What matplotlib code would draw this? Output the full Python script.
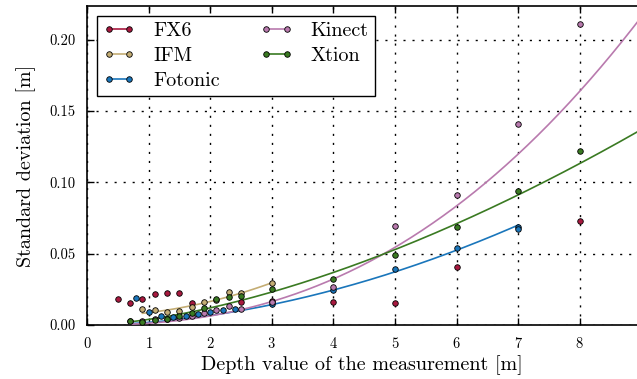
import numpy as np
import matplotlib
matplotlib.use('Agg')
import matplotlib.pyplot as plt

plt.rcParams['font.family'] = 'serif'
plt.rcParams['font.serif'] = ['cmr10', 'DejaVu Serif']
plt.rcParams['mathtext.fontset'] = 'cm'
plt.rcParams['axes.formatter.use_mathtext'] = True

# measured standard deviations [m] per depth [m]
fx6_x = [0.5, 0.7, 0.9, 1.1, 1.3, 1.5, 1.7, 2.5, 3, 4, 5, 6, 8]
fx6_y = [0.018, 0.0155, 0.018, 0.0215, 0.0225, 0.0225, 0.0155, 0.016, 0.017, 0.016, 0.0155, 0.041, 0.0727]

ifm_x = [0.9, 1.1, 1.3, 1.5, 1.7, 1.9, 2.1, 2.3, 2.5, 3.0]
ifm_y = [0.0112, 0.0103, 0.009, 0.0098, 0.0125, 0.0163, 0.0175, 0.0233, 0.0225, 0.0296]

fotonic_x = [0.8, 1.0, 1.2, 1.4, 1.6, 1.8, 2.0, 2.2, 2.4, 3, 4, 5, 6, 7, 7]
fotonic_y = [0.0186, 0.0093, 0.0063, 0.0054, 0.006, 0.0075, 0.0093, 0.0105, 0.011, 0.0145, 0.0245, 0.0396, 0.054, 0.0688, 0.0675]

kinect_x = [0.7, 0.9, 1.1, 1.3, 1.5, 1.7, 1.9, 2.1, 2.3, 2.5, 3, 4, 5, 6, 7, 8]
kinect_y = [0.003, 0.003, 0.0045, 0.004, 0.005, 0.006, 0.0086, 0.0105, 0.013, 0.0112, 0.0163, 0.0268, 0.0694, 0.0914, 0.1408, 0.2114]

xtion_x = [0.7, 0.9, 1.1, 1.3, 1.5, 1.7, 1.9, 2.1, 2.3, 2.5, 3, 4, 5, 6, 7, 8]
xtion_y = [0.0028, 0.0023, 0.0035, 0.004, 0.006, 0.0086, 0.0116, 0.018, 0.0198, 0.0205, 0.025, 0.032, 0.049, 0.0686, 0.094, 0.1219]

# fitted models: power law a*x^p, IFM quadratic
kinect_fit = (0.00125, 2.345)
xtion_fit = (0.0039, 1.62)
fotonic_fit = (0.00182, 1.876)
ifm_fit = [0.002645, -0.000125, 0.00617]

c_fx6 = '#a8193f'
c_ifm = '#c4ad74'
c_fot = '#1a76bb'
c_kin = '#b97aae'
c_xti = '#3a7a22'

fig = plt.figure(figsize=(6.37, 3.79), dpi=100)
ax = fig.add_axes([0.1366, 0.1425, 0.8634, 0.8415])

mk = dict(marker='o', ms=4.0, mec='black', mew=0.6, ls='none', zorder=4)

xf = np.linspace(0.7, 9.2, 200)
xf_fot = np.linspace(0.7, 7.0, 200)
xf_ifm = np.linspace(0.9, 3.0, 100)

ax.plot(fx6_x, fx6_y, color=c_fx6, **mk)
ax.plot(xf_ifm, np.polyval(ifm_fit, xf_ifm), color=c_ifm, lw=1.2, zorder=3)
ax.plot(ifm_x, ifm_y, color=c_ifm, **mk)
ax.plot(xf_fot, fotonic_fit[0] * xf_fot ** fotonic_fit[1], color=c_fot, lw=1.2, zorder=3)
ax.plot(fotonic_x, fotonic_y, color=c_fot, **mk)
ax.plot(xf, kinect_fit[0] * xf ** kinect_fit[1], color=c_kin, lw=1.2, zorder=3)
ax.plot(kinect_x, kinect_y, color=c_kin, **mk)
ax.plot(xf, xtion_fit[0] * xf ** xtion_fit[1], color=c_xti, lw=1.2, zorder=3)
ax.plot(xtion_x, xtion_y, color=c_xti, **mk)

# legend proxies
names = ['FX6', 'IFM', 'Fotonic', 'Kinect', 'Xtion']
cols = [c_fx6, c_ifm, c_fot, c_kin, c_xti]
handles = [ax.plot([], [], color=c, lw=1.2, marker='o', ms=4.0, mec='black', mew=0.6)[0] for c in cols]
leg = ax.legend(handles, names, loc='upper left', ncol=2, numpoints=2, fontsize=14.5,
                frameon=True, fancybox=False, edgecolor='black', framealpha=1,
                borderaxespad=0.5, handlelength=1.6, columnspacing=2.0, labelspacing=0.33,
                handletextpad=0.9, borderpad=0.3)
leg.get_frame().set_linewidth(1.0)

ax.set_xlim(0, 8.93)
ax.set_ylim(0, 0.2237)
ax.set_xticks(range(0, 9))
ax.set_yticks([0, 0.05, 0.10, 0.15, 0.20])
ax.set_yticklabels(['0.00', '0.05', '0.10', '0.15', '0.20'])
ax.grid(True, color='black', ls=(0, (1.5, 5)), lw=1.0)
ax.tick_params(direction='in', top=True, right=False, length=5, width=1.0, labelsize=10.5, pad=8)
ax.spines['right'].set_visible(False)
for s in ['left', 'top', 'bottom']:
    ax.spines[s].set_linewidth(1.2)

ax.set_xlabel('Depth value of the measurement [m]', fontsize=14.5, labelpad=3)
ax.set_ylabel('Standard deviation [m]', fontsize=14.5, labelpad=10)

fig.savefig('out.png', dpi=100)
